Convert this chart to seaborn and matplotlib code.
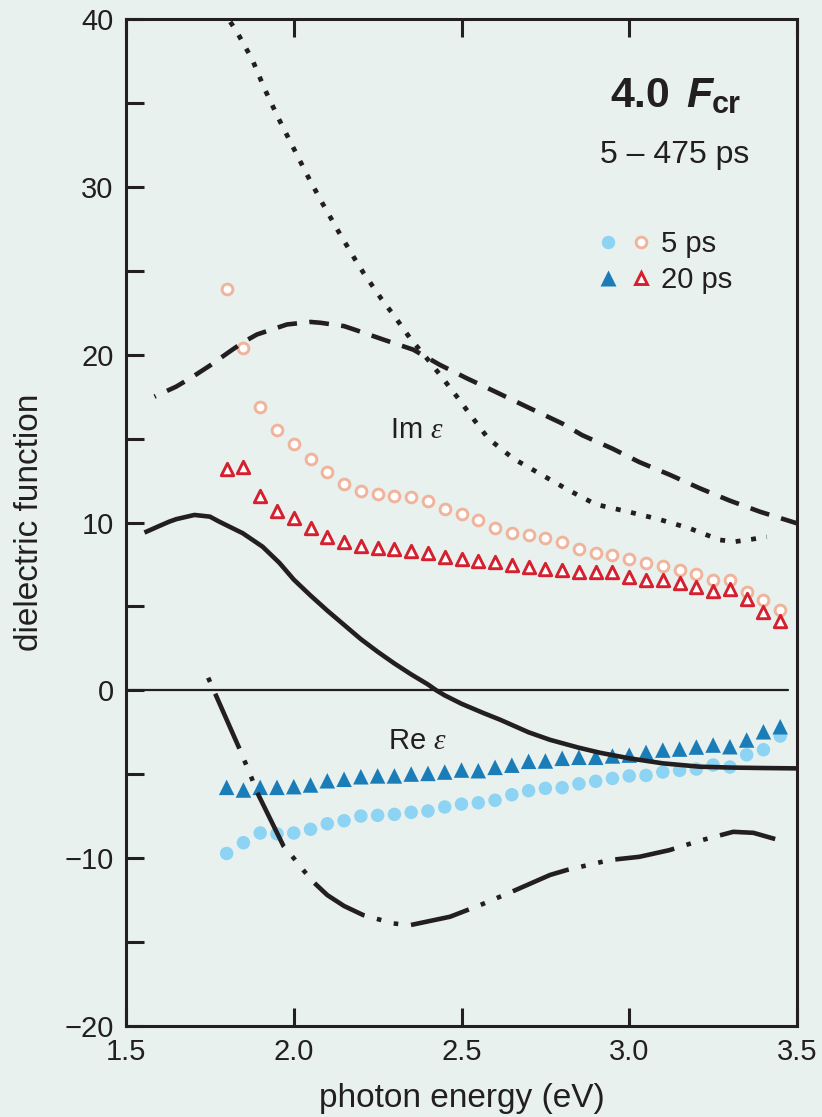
import matplotlib
matplotlib.use("Agg")
import matplotlib.pyplot as plt
from matplotlib.lines import Line2D
from matplotlib.legend_handler import HandlerTuple
import seaborn as sns

# ---- measured points (photon energy in eV) ----
energy = [1.80, 1.85, 1.90, 1.95, 2.00, 2.05, 2.10, 2.15, 2.20, 2.25, 2.30, 2.35,
          2.40, 2.45, 2.50, 2.55, 2.60, 2.65, 2.70, 2.75, 2.80, 2.85, 2.90, 2.95,
          3.00, 3.05, 3.10, 3.15, 3.20, 3.25, 3.30, 3.35, 3.40, 3.45]

im_5ps = [23.9, 20.4, 16.9, 15.5, 14.7, 13.8, 13.0, 12.3, 11.9, 11.7, 11.6, 11.5,
          11.3, 10.8, 10.5, 10.15, 9.7, 9.4, 9.25, 9.05, 8.85, 8.4, 8.2, 8.05,
          7.8, 7.6, 7.4, 7.15, 6.95, 6.6, 6.6, 5.85, 5.4, 4.8]

im_20ps = [13.2, 13.3, 11.6, 10.7, 10.25, 9.7, 9.15, 8.85, 8.6, 8.5, 8.45, 8.32,
           8.2, 7.96, 7.8, 7.7, 7.63, 7.47, 7.37, 7.23, 7.17, 7.03, 7.03, 7.07,
           6.77, 6.57, 6.57, 6.39, 6.14, 5.94, 6.04, 5.44, 4.65, 4.13]

re_5ps = [-9.72, -9.08, -8.5, -8.55, -8.5, -8.28, -7.95, -7.77, -7.49, -7.45,
          -7.39, -7.27, -7.19, -6.95, -6.78, -6.7, -6.55, -6.22, -5.98, -5.84,
          -5.8, -5.57, -5.42, -5.25, -5.1, -5.07, -4.87, -4.77, -4.69, -4.45,
          -4.57, -3.84, -3.54, -2.72]

re_20ps = [-5.78, -5.94, -5.78, -5.78, -5.74, -5.64, -5.39, -5.3, -5.15, -5.1,
           -5.1, -4.99, -4.95, -4.87, -4.75, -4.79, -4.59, -4.46, -4.23, -4.21,
           -4.05, -3.99, -3.99, -3.91, -3.86, -3.7, -3.56, -3.5, -3.38, -3.26,
           -3.36, -2.96, -2.47, -2.17]

# ---- reference curves ----
solid_e = [1.555, 1.60, 1.629, 1.65, 1.704, 1.75, 1.778, 1.848, 1.907, 1.957,
           2.00, 2.05, 2.10, 2.15, 2.20, 2.25, 2.30, 2.35, 2.40, 2.425, 2.45,
           2.50, 2.565, 2.615, 2.70, 2.764, 2.85, 2.913, 3.00, 3.10, 3.21, 3.30,
           3.40, 3.50]
solid_v = [9.4, 9.8, 10.05, 10.2, 10.45, 10.35, 10.05, 9.36, 8.56, 7.6,
           6.6, 5.65, 4.75, 3.9, 3.05, 2.3, 1.6, 0.95, 0.35, 0.0, -0.3,
           -0.8, -1.35, -1.75, -2.5, -2.95, -3.42, -3.72, -4.05, -4.35, -4.55, -4.6,
           -4.63, -4.65]

dashed_e = [1.585, 1.65, 1.70, 1.75, 1.81, 1.85, 1.89, 1.95, 1.98,
            2.05, 2.08, 2.15, 2.18, 2.267, 2.356, 2.435, 2.515, 2.60, 2.694,
            2.80, 2.86, 2.95, 3.03, 3.12, 3.21, 3.30, 3.39, 3.50]
dashed_v = [17.5, 18.1, 18.7, 19.35, 20.2, 20.75, 21.2, 21.6, 21.8,
            21.95, 21.9, 21.7, 21.5, 20.9, 20.3, 19.4, 18.6, 17.8, 16.9,
            15.9, 15.2, 14.4, 13.6, 12.85, 12.04, 11.3, 10.64, 9.95]

dotted_e = [1.785, 1.83, 1.876, 1.914, 1.954, 1.997, 2.04, 2.086, 2.133, 2.182,
            2.207, 2.262, 2.30, 2.346, 2.40, 2.436, 2.494, 2.523, 2.58, 2.655,
            2.734, 2.818, 2.90, 2.997, 3.087, 3.18, 3.27, 3.315, 3.365, 3.41]
dotted_v = [40.6, 39.25, 37.6, 35.8, 34.1, 32.4, 30.7, 29.0, 27.35, 25.7,
            24.9, 23.3, 22.3, 21.0, 19.7, 18.8, 17.3, 16.5, 15.0, 13.8,
            12.9, 11.94, 11.08, 10.64, 10.2, 9.65, 8.96, 8.86, 9.0, 9.15]

dashdot_e = [1.745, 1.84, 1.875, 1.89, 1.97, 2.00, 2.03, 2.06, 2.10, 2.15,
             2.207, 2.297, 2.347, 2.466, 2.555, 2.65, 2.764, 2.813, 2.942, 3.03,
             3.12, 3.21, 3.31, 3.37, 3.435]
dashdot_v = [0.75, -3.56, -5.25, -6.04, -9.3, -10.0, -10.75, -11.45, -12.2, -12.85,
             -13.39, -13.89, -13.99, -13.49, -12.8, -12.0, -11.0, -10.71, -10.11, -9.92,
             -9.52, -8.96, -8.43, -8.49, -8.86]

x_ticks = [1.5, 2.0, 2.5, 3.0, 3.5]
x_ticklabels = ["1.5", "2.0", "2.5", "3.0", "3.5"]
y_ticks = [-20, -10, 0, 10, 20, 30, 40]

BG = "#e8f1ee"
INK = "#231f20"
LIGHT_BLUE = "#8dd3f3"
DARK_BLUE = "#1b7db8"
SALMON = "#f0b49c"
RED = "#d4202f"

sns.set_style("ticks", {"axes.facecolor": BG, "figure.facecolor": BG,
                        "axes.edgecolor": INK, "xtick.color": INK, "ytick.color": INK,
                        "text.color": INK, "axes.labelcolor": INK})
plt.rcParams["font.family"] = ["Liberation Sans", "DejaVu Sans"]
plt.rcParams["mathtext.fontset"] = "custom"
plt.rcParams["mathtext.rm"] = "Liberation Sans"
plt.rcParams["mathtext.it"] = "Liberation Serif:italic"

fig = plt.figure(figsize=(8.22, 11.17), dpi=100)
ax = fig.add_axes([126 / 822, 1 - 1026 / 1117, 671 / 822, 1007 / 1117])

# measured data
sns.scatterplot(x=energy, y=re_5ps, marker="o", s=94, color=LIGHT_BLUE,
                edgecolor="none", linewidth=0, ax=ax, zorder=3)
sns.scatterplot(x=energy, y=re_20ps, marker="^", s=125, color=DARK_BLUE,
                edgecolor="none", linewidth=0, ax=ax, zorder=3)
sns.scatterplot(x=energy, y=im_5ps, marker="o", s=60, color=SALMON,
                facecolor="white", edgecolor=SALMON, linewidth=2.1, ax=ax, zorder=3)
sns.scatterplot(x=energy, y=im_20ps, marker="^", s=80, color=RED,
                facecolor="white", edgecolor=RED, linewidth=2.1, ax=ax, zorder=3)

# reference curves
LW = 3.3
sns.lineplot(x=solid_e, y=solid_v, color=INK, lw=LW, ax=ax, zorder=4,
             solid_capstyle="butt", solid_joinstyle="round")
sns.lineplot(x=dashed_e, y=dashed_v, color=INK, lw=LW, ax=ax, zorder=4,
             linestyle=(4.0, (4.3, 2.7)))
sns.lineplot(x=dotted_e, y=dotted_v, color=INK, lw=3.4, ax=ax, zorder=4,
             linestyle=(0, (1.05, 2.25)))
sns.lineplot(x=dashdot_e, y=dashdot_v, color=INK, lw=LW, ax=ax, zorder=4,
             linestyle=(19.7, (13.1, 2.8, 1.0, 2.8, 1.0, 2.8)))

ax.axhline(0, xmin=0, xmax=0.987, color=INK, lw=1.6, zorder=2)

# axes
ax.set_xlim(1.5, 3.5)
ax.set_ylim(-20, 40)
ax.set_xticks(x_ticks)
ax.set_xticklabels(x_ticklabels)
ax.set_yticks(y_ticks)
ax.set_yticks([-15, -5, 5, 15, 25, 35], minor=True)
for s in ax.spines.values():
    s.set_linewidth(2.2)
    s.set_visible(True)
ax.tick_params(axis="both", which="both", direction="in", length=13, width=2.2,
               color=INK)
ax.tick_params(axis="x", top=True, bottom=True, pad=9, labelsize=21)
ax.tick_params(axis="y", left=True, right=False, pad=9, labelsize=21)

ax.set_xlabel("photon energy (eV)", fontsize=24, labelpad=12)
ax.set_ylabel("dielectric function", fontsize=24, labelpad=14)

# annotations
ax.text(2.287, 15.5, r"Im $\varepsilon$", fontsize=21, va="center", ha="left")
ax.text(2.281, -3.0, r"Re $\varepsilon$", fontsize=21, va="center", ha="left")

t1 = ax.text(2.943, 34.76, "4.0", fontsize=31, fontweight="bold", va="baseline")
t2 = ax.annotate("F", xy=(1, 0), xycoords=t1, xytext=(12, 0),
                 textcoords="offset points", fontsize=31, fontweight="bold",
                 fontstyle="italic", va="bottom")
ax.annotate("cr", xy=(1, 0), xycoords=t2, xytext=(-1, -3),
            textcoords="offset points", fontsize=22, fontweight="bold", va="bottom")
ax.text(2.913, 31.4, "5 \u2013 475 ps", fontsize=23, va="baseline")

# legend: filled = Re, open = Im
h5 = (Line2D([], [], ls="none", marker="o", ms=9.7, mfc=LIGHT_BLUE, mec="none"),
      Line2D([], [], ls="none", marker="o", ms=7.7, mfc="white", mec=SALMON, mew=2.1))
h20 = (Line2D([], [], ls="none", marker="^", ms=11, mfc=DARK_BLUE, mec="none"),
       Line2D([], [], ls="none", marker="^", ms=8.9, mfc="white", mec=RED, mew=2.1))
ax.legend([h5, h20], ["5 ps", "20 ps"],
          handler_map={tuple: HandlerTuple(ndivide=None, pad=0.66)},
          loc="upper left", bbox_to_anchor=(0.708, 0.790), frameon=False,
          fontsize=21, borderpad=0, borderaxespad=0, handlelength=1.6,
          handletextpad=0.45, labelspacing=0.27, numpoints=1)

fig.savefig("out.png", dpi=100, facecolor=BG)
